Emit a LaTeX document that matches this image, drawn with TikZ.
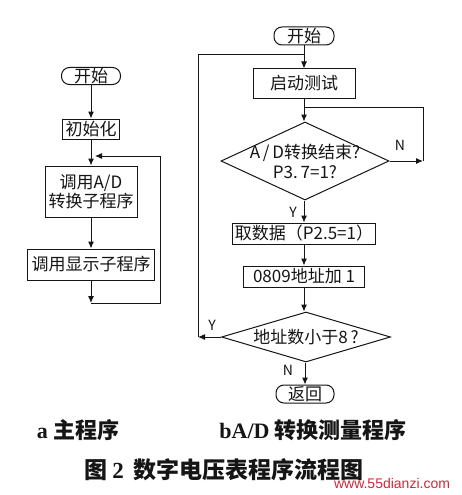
\documentclass[tikz,border=0pt]{standalone}
\usepackage{fontspec}
\newfontfamily\cjk{Noto Sans CJK SC}
\newfontfamily\capser{Liberation Serif}
\newfontfamily\wmfont{Liberation Sans}
\usetikzlibrary{arrows.meta,shapes.geometric}
\definecolor{ink}{HTML}{151515}
\definecolor{wmred}{HTML}{D0283A}
\begin{document}
\begin{tikzpicture}[x=1pt,y=-1pt,
  box/.style={draw=ink, line width=1pt, inner sep=0pt, align=center, text=ink,
              font=\cjk\fontsize{17}{19}\selectfont},
  term/.style={box, rounded corners=8pt},
  dia/.style={draw=ink, diamond, line width=1pt, inner sep=0pt},
  diatext/.style={inner sep=0pt, align=center, text=ink, font=\cjk\fontsize{17}{20}\selectfont},
  lbl/.style={inner sep=0pt, text=ink, font=\cjk\fontsize{14}{16}\selectfont},
  flow/.style={draw=ink, line width=1pt, -{Latex[length=7pt,width=6pt]}},
  plain/.style={draw=ink, line width=1pt},
  captext/.style={inner sep=0pt, text=ink, font=\cjk\bfseries\fontsize{22}{24}\selectfont}
]
\useasboundingbox (0,0) rectangle (461,495);
\fill[white] (0,0) rectangle (461,495);

% ---------- left: main program ----------
\node[term, minimum width=59pt, minimum height=17pt] (s1) at (91,76) {开始};
\node[box, minimum width=57pt, minimum height=20pt] (init) at (91,129) {初始化};
\node[box, minimum width=92pt, minimum height=51pt] (ad) at (91,191.5) {调用A/D\\转换子程序};
\node[box, minimum width=127pt, minimum height=31pt] (disp) at (91,264.5) {调用显示子程序};

\coordinate (lb) at (91,303);
\coordinate (lr) at (160,303);
\coordinate (lt) at (160,156);
\coordinate (lin) at (95,156);

\draw[flow] (s1) -- (init);
\draw[flow] (init) -- (ad);
\draw[flow] (ad) -- (disp);
\draw[flow] (disp) -- (lb);
\draw[flow] (lb) -- (lr) -- (lt) -- (lin);

% ---------- right: A/D conversion ----------
\node[term, minimum width=60pt, minimum height=18pt] (s2) at (304,36) {开始};
\node[box, minimum width=102pt, minimum height=29pt] (test) at (304,83.5) {启动测试};
\node[dia, minimum width=168pt, minimum height=78pt] (d1) at (305,161) {};
\node[diatext] (d1t) at (d1.center) {A\,/\,D转换结束?\\P3.\,7=1?};
\node[box, minimum width=143pt, minimum height=21pt] (get) at (304,233.5) {取数据（P2.5=1）};
\node[box, minimum width=121pt, minimum height=21pt] (addr) at (304,276.5) {0809地址加 1};
\node[dia, minimum width=169pt, minimum height=50pt] (d2) at (306,337) {};
\node[diatext] (d2t) at (d2.center) {地址数小于8\,?};
\node[term, minimum width=58pt, minimum height=18pt] (ret) at (305,394) {返回};

\coordinate (yl) at (198,337);
\coordinate (yt) at (198,55);
\coordinate (yj) at (304,55);
\coordinate (nb) at (423,161);
\coordinate (nt) at (423,107);
\coordinate (nj) at (304,107);

\draw[flow] (s2) -- (test);
\draw[flow] (test) -- (test.south |- d1.north);
\draw[flow] (d1.east) -- (nb);
\draw[plain] (nb) -- (nt) -- (nj);
\draw[flow] (d1.south -| get.north) -- (get.north);
\draw[flow] (get) -- (addr);
\draw[flow] (addr.south) -- (addr.south |- d2.north);
\draw[flow] (d2.west) -- (yl);
\draw[plain] (yl) -- (yt) -- (yj);
\draw[flow] (d2.south -| ret.north) -- (ret.north);

\node[lbl] (ln) at (400,145) {N};
\node[lbl] (ly1) at (293,212) {Y};
\node[lbl] (ly2) at (212,325) {Y};
\node[lbl] (ln2) at (288,370) {N};

% ---------- captions ----------
\node[captext] (capa) at (78,430) {{\capser a} 主程序};
\node[captext] (capb) at (313,430) {{\capser bA/D} 转换测量程序};
\node[captext, font=\cjk\bfseries\fontsize{23}{25}\selectfont] (capm) at (224,470) {图\hspace{5pt}{\capser 2}\hspace{10pt}数字电压表程序流程图};
\node[inner sep=0pt, text=wmred, font=\wmfont\fontsize{14}{16}\selectfont] (wm) at (392,483) {www.55dianzi.com};
\end{tikzpicture}
\end{document}
